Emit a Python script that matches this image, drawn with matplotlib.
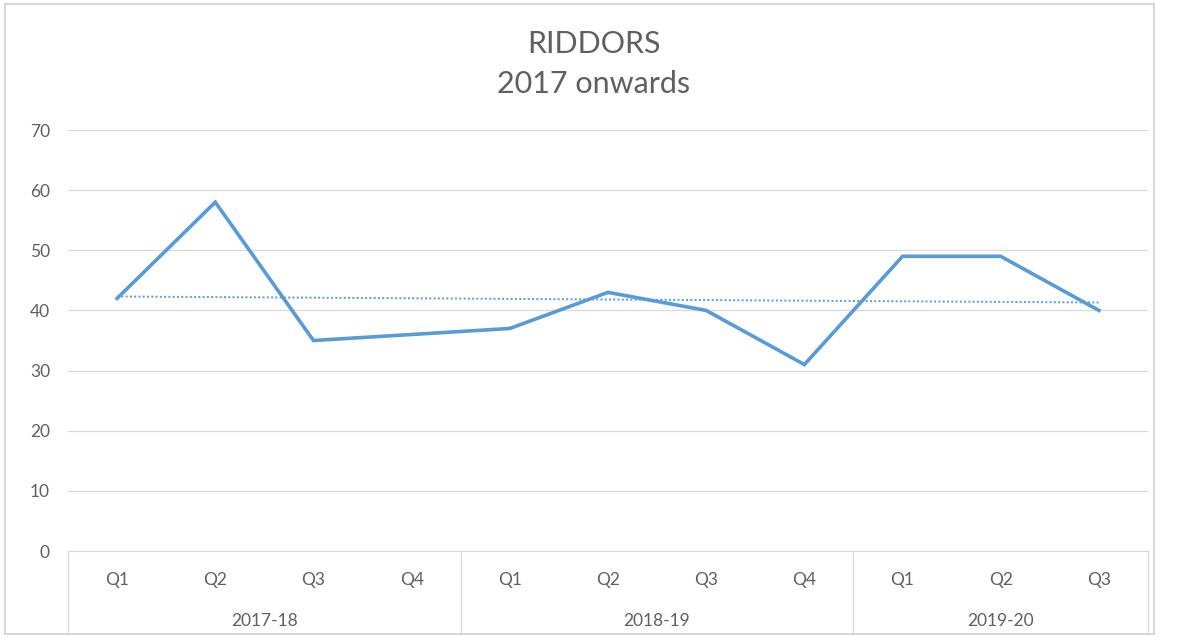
import numpy as np
import matplotlib
matplotlib.use("Agg")
import matplotlib.pyplot as plt
from matplotlib.patches import Rectangle
from matplotlib.lines import Line2D

plt.rcParams['font.family'] = ['Lato', 'DejaVu Sans']

quarters = ["Q1", "Q2", "Q3", "Q4", "Q1", "Q2", "Q3", "Q4", "Q1", "Q2", "Q3"]
years = ["2017-18", "2018-19", "2019-20"]
year_sizes = [4, 4, 3]
riddors = [42, 58, 35, 36, 37, 43, 40, 31, 49, 49, 40]

line_color = "#5B9BD5"
text_color = "#606060"
grid_color = "#D9D9D9"

W, H = 1177, 641
fig = plt.figure(figsize=(W / 100, H / 100), dpi=100)
ax = fig.add_axes([68 / W, 1 - 551 / H, (1148 - 68) / W, (551 - 130) / H])

x = np.arange(len(riddors))
ax.plot(x, riddors, color=line_color, lw=2.6, solid_joinstyle="miter", zorder=3)

# linear trendline
slope, intercept = np.polyfit(x + 1, riddors, 1)
trend = slope * (x + 1) + intercept
ax.plot(x, trend, color=line_color, lw=1.4, linestyle=(0, (1, 1.2)), zorder=2)

ax.set_xlim(-0.5, len(riddors) - 0.5)
ax.set_ylim(0, 70)
ax.set_yticks(range(0, 71, 10))
ax.yaxis.grid(True, color=grid_color, lw=0.9)
ax.set_axisbelow(True)
for s in ["top", "right", "left"]:
    ax.spines[s].set_visible(False)
ax.spines["bottom"].set_color(grid_color)
ax.tick_params(axis="y", length=0, pad=13, labelsize=12.5, labelcolor=text_color)
ax.set_xticks([])

# two-level category axis
trans = ax.get_xaxis_transform()
for xi, q in zip(x, quarters):
    ax.text(xi, -0.0796, q, transform=trans, ha="center", va="baseline",
            fontsize=12.5, color=text_color)
bounds = np.concatenate([[0], np.cumsum(year_sizes)]) - 0.5
for i, yr in enumerate(years):
    mid = (bounds[i] + bounds[i + 1]) / 2
    ax.text(mid, -0.1793, yr, transform=trans, ha="center", va="baseline",
            fontsize=12.5, color=text_color)
for b in bounds:
    ax.add_line(Line2D([b, b], [0, -0.195], transform=trans, color=grid_color,
                       lw=0.9, clip_on=False))

fig.text(594 / W, 1 - 53 / H, "RIDDORS", ha="center", va="baseline",
         fontsize=22, color=text_color)
fig.text(594 / W, 1 - 93 / H, "2017 onwards", ha="center", va="baseline",
         fontsize=22, color=text_color)

# chart frame
fig.patches.append(Rectangle((5 / W, 1 - 634 / H), 1149 / W, 630 / H,
                             transform=fig.transFigure, fill=False,
                             edgecolor="#D0D0D0", lw=1.2))

fig.savefig("out.png", dpi=100, facecolor="white")
